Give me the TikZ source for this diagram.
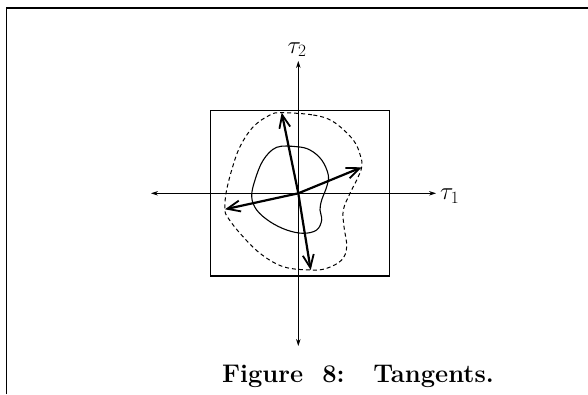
\documentclass[tikz,border=0pt]{standalone}
\usetikzlibrary{arrows.meta}
\begin{document}
\begin{tikzpicture}[x=1pt,y=-1pt,
  axis/.style={line width=0.8pt,-{Stealth[length=7pt,width=4.5pt]}},
  tangent/.style={line width=2.2pt,-{Straight Barb[length=13pt,width=11pt,line width=1.8pt]}},
  frameline/.style={line width=1.8pt},
  lbl/.style={font=\fontsize{26}{30}\selectfont},
  captext/.style={font=\fontsize{25.5}{30}\selectfont\bfseries}]
\useasboundingbox (0,0) rectangle (588,394);
% frame
\draw[frameline] (6.5,394) -- (6.5,8) -- (588,8);
% coordinates
\coordinate (O) at (298.3,193.3);
\coordinate (xl) at (151,193.3);
\coordinate (xr) at (436,193.3);
\coordinate (yt) at (298.3,61);
\coordinate (yb) at (298.3,346);
\coordinate (t1) at (281.7,112.7);
\coordinate (t2) at (310.7,270);
\coordinate (t3) at (361.7,167.3);
\coordinate (t4) at (225,209.3);
% box
\draw[line width=1.3pt] (210.7,110.7) rectangle (389.3,276);
% axes
\draw[axis] (O) -- (xr);
\draw[axis] (O) -- (xl);
\draw[axis] (O) -- (yt);
\draw[axis] (O) -- (yb);
\node[lbl,anchor=west,inner sep=1pt] (tau1) at (439,196) {$\tau_1$};
\node[lbl,anchor=south,inner sep=1pt] (tau2) at (297,58) {$\tau_2$};
% dashed curve
\draw[line width=1pt,dash pattern=on 4pt off 3pt] plot[smooth cycle,tension=0.6] coordinates {
(281.7,112.7) (313.3,115) (333.3,121.7) (353.3,140) (360.7,156.7) (361.7,167.3)
(356.7,180) (350,193.3) (343.3,210) (344,226.7) (346.7,246.7) (341.7,260)
(326.7,268.3) (310.7,270) (283.3,266.7) (260,253.3) (240,233.3) (227.3,216.7)
(225,209.3) (226,193.3) (231.7,170) (240,146.7) (253.3,126.7) (270,115)};
% solid curve
\draw[line width=1.1pt] plot[smooth cycle,tension=0.6] coordinates {
(276.7,147.3) (296.7,146.7) (310,150) (321.7,160) (328.3,175) (326.7,186.7)
(321.7,200) (320,210) (321.7,220) (316.7,230) (303.3,233.3) (286.7,230)
(270,221.7) (256.7,210) (251.7,196.7) (255,180) (263.3,160)};
% tangents
\draw[tangent] (O) -- (t1);
\draw[tangent] (O) -- (t2);
\draw[tangent] (O) -- (t3);
\draw[tangent] (O) -- (t4);
% caption
\node[captext,anchor=base] (caption) at (358,382) {Figure\ \ 8:\ \ \ Tangents.};
\end{tikzpicture}
\end{document}
